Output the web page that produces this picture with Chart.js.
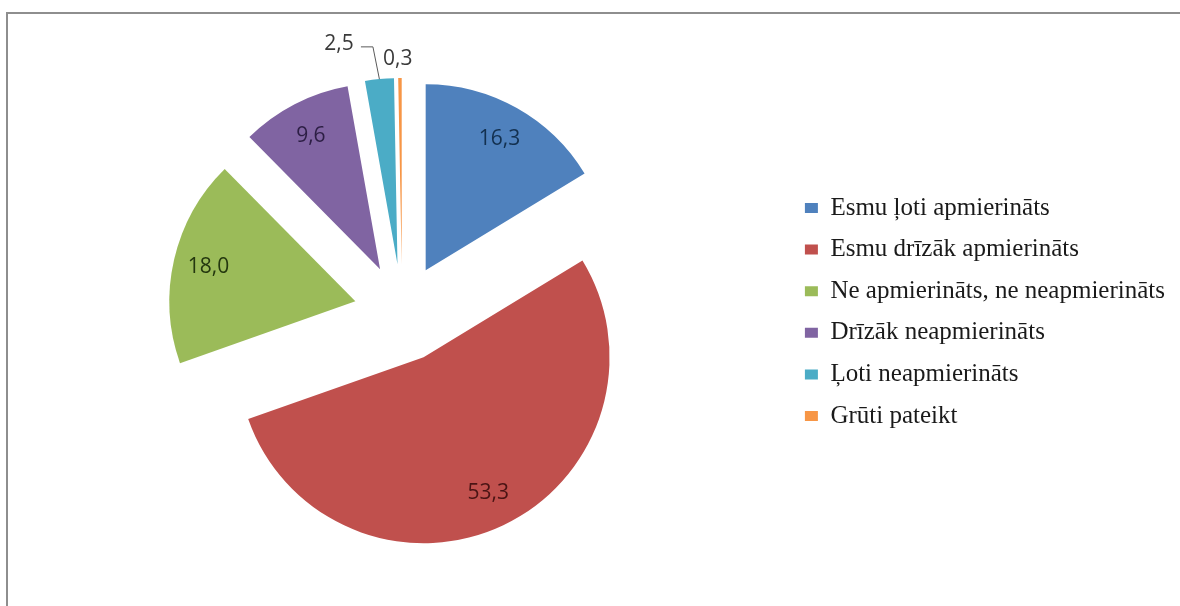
<!DOCTYPE html>
<html>
<head>
<meta charset="utf-8">
<script src="https://cdn.jsdelivr.net/npm/chart.js@4/dist/chart.umd.min.js"></script>
<style>
    html, body { margin: 0; padding: 0; background: #fff; }
    #wrap { position: relative; width: 1180px; height: 606px; overflow: hidden; }
    #frame {
        position: absolute; left: 6px; top: 12px; width: 1172px; height: 600px;
        border-top: 2px solid #8e8e8e; border-left: 2px solid #8e8e8e; border-right: 1px solid #dcdcdc;
    }
    #box { position: absolute; left: 0; top: 0; width: 1180px; height: 606px; }
</style>
</head>
<body>
<div id="wrap">
    <div id="frame"></div>
    <div id="box"><canvas id="pie"></canvas></div>
</div>
<script>
const categories = [
    "Esmu ļoti apmierināts",
    "Esmu drīzāk apmierināts",
    "Ne apmierināts, ne neapmierināts",
    "Drīzāk neapmierināts",
    "Ļoti neapmierināts",
    "Grūti pateikt"
];
const values = [16.3, 53.3, 18.0, 9.6, 2.5, 0.3];
const colors = ["#4f81bd", "#c0504d", "#9bbb59", "#8064a2", "#4bacc6", "#f79646"];
const labelColors = ["#13304f", "#4a1414", "#24370f", "#2c1e44", "#3a3a3a", "#3a3a3a"];
// how far each slice is pulled out, in px
const explode = [48, 50, 48, 48, 48, 48];
// small slices get their label outside: [extra radius, angle shift in degrees]
const outside = [null, null, null, null, [42, -9.3], [19, -0.55]];

function fmt(v){
    return v.toFixed(1).replace(".", ",");
}

// chart.js "offset" also grows the radius of some slices, so move the arc centres instead
const explodeSlices = {
    id: "explodeSlices",
    afterDatasetsUpdate(chart){
        const area = chart.chartArea;
        const cx = (area.left + area.right) / 2;
        const cy = (area.top + area.bottom) / 2;
        chart.getDatasetMeta(0).data.forEach((arc, i) => {
            const mid = (arc.startAngle + arc.endAngle) / 2;
            arc.x = cx + Math.cos(mid) * explode[i];
            arc.y = cy + Math.sin(mid) * explode[i];
        });
    }
};

const sliceLabels = {
    id: "sliceLabels",
    afterDatasetsDraw(chart){
        const ctx = chart.ctx;
        const meta = chart.getDatasetMeta(0);
        ctx.save();
        ctx.font = "21px 'Open Sans'";
        ctx.textAlign = "center";
        ctx.textBaseline = "middle";
        meta.data.forEach((arc, i) => {
            const mid = (arc.startAngle + arc.endAngle) / 2;
            const r = arc.outerRadius;
            let lx, ly;
            if (outside[i]) {
                const a = mid + outside[i][1] * Math.PI / 180;
                lx = arc.x + Math.cos(a) * (r + outside[i][0]);
                ly = arc.y + Math.sin(a) * (r + outside[i][0]);
                if (i == 4) {
                    // leader line from the slice edge
                    ctx.strokeStyle = "#5a5a5a";
                    ctx.lineWidth = 1;
                    ctx.beginPath();
                    ctx.moveTo(arc.x + Math.cos(mid) * r, arc.y + Math.sin(mid) * r);
                    ctx.lineTo(lx + 34, ly + 3);
                    ctx.lineTo(lx + 22, ly + 3);
                    ctx.stroke();
                }
            } else {
                lx = arc.x + Math.cos(mid) * r * 0.81;
                ly = arc.y + Math.sin(mid) * r * 0.81;
            }
            ctx.fillStyle = labelColors[i];
            ctx.fillText(fmt(values[i]), lx, ly);
        });
        ctx.restore();
    }
};

new Chart(document.getElementById("pie"), {
    type: "pie",
    data: {
        labels: categories,
        datasets: [{
            data: values,
            backgroundColor: colors,
            borderWidth: 0,
            hoverOffset: 0
        }]
    },
    options: {
        responsive: true,
        maintainAspectRatio: false,
        animation: false,
        radius: 186,
        layout: { padding: { left: 16, right: 5, top: 18, bottom: 0 } },
        plugins: {
            tooltip: { enabled: false },
            legend: {
                position: "right",
                labels: {
                    boxWidth: 13,
                    boxHeight: 10,
                    padding: 16.6,
                    color: "#1a1a1a",
                    font: { family: "'Liberation Serif'", size: 25 }
                }
            }
        }
    },
    plugins: [explodeSlices, sliceLabels]
});
</script>
</body>
</html>
